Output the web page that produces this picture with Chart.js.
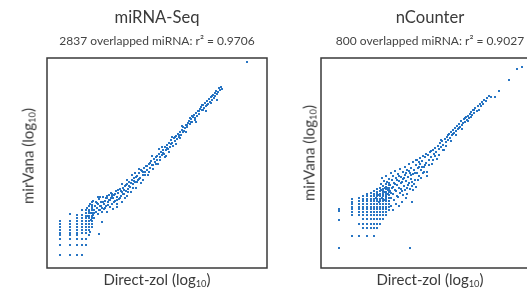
<!DOCTYPE html>
<html>
<head>
<meta charset="utf-8">
<script src="https://cdn.jsdelivr.net/npm/chart.js@4.4.0/dist/chart.umd.min.js"></script>
<style>
  html, body { margin:0; padding:0; background:#fff; }
  body { width:527px; height:291px; overflow:hidden; position:relative; font-family: Lato, "Open Sans", sans-serif; color:#3a3a3a; }
  canvas { position:absolute; top:0; }
  .t { position:absolute; white-space:nowrap; line-height:1; transform:translateX(-50%); }
  .title { font-size:16.6px; top:9px; }
  .sub { font-size:12px; top:35px; color:#444; }
  .xt { font-size:15px; top:272px; }
  .yt { font-size:15px; transform:translate(-50%,-50%) rotate(-90deg); }
  sub { font-size:0.62em; vertical-align:-0.25em; line-height:0; }
</style>
</head>
<body>
<canvas id="c1" width="270" height="291" style="left:0px"></canvas>
<canvas id="c2" width="290" height="291" style="left:270px"></canvas>

<div class="t title" style="left:157px">miRNA-Seq</div>
<div class="t sub" style="left:157px">2837 overlapped miRNA: r² = 0.9706</div>
<div class="t xt" style="left:157px">Direct-zol (log<sub>10</sub>)</div>
<div class="t yt" style="left:27.5px; top:156px">mirVana (log<sub>10</sub>)</div>

<div class="t title" style="left:430px">nCounter</div>
<div class="t sub" style="left:430px">800 overlapped miRNA: r² = 0.9027</div>
<div class="t xt" style="left:430px">Direct-zol (log<sub>10</sub>)</div>
<div class="t yt" style="left:308.5px; top:153px">mirVana (log<sub>10</sub>)</div>

<script>
// ---- Data (arbitrary log-scale units) ----
const panelTitles = ["miRNA-Seq", "nCounter"];
const panelSubtitles = ["2837 overlapped miRNA: r² = 0.9706", "800 overlapped miRNA: r² = 0.9027"];

// miRNA-Seq: low-count discrete grid
const seqGrid = [
  [13,47],[13,44],[13,41],[13,38],[13,35],[13,33],[13,29],[13,23],[13,13],
  [23,54],[23,47],[23,44],[23,41],[23,38],[23,35],[23,33],[23,29],[23,23],[23,13],
  [30,53],[30,50],[30,47],[30,44],[30,41],[30,38],[30,35],[30,33],[30,29],[30,23],[30,13],
  [35,58],[35,53],[35,50],[35,47],[35,44],[35,41],[35,38],[35,35],[35,29],[35,23],[35,13],
  [39,58],[39,55],[39,52],[39,50],[39,47],[39,44],[39,41],[39,38],[39,35],[39,29],[39,23],
  [42,62],[42,58],[42,55],[42,52],[42,50],[42,47],[42,44],[42,41],[42,38],[42,33],
  [45,66],[45,62],[45,58],[45,55],[45,52],[45,50],[45,47],[45,44],[45,41]
];
// miRNA-Seq: main cloud along the diagonal
const seqCloud = [
  [40,60],[41,52],[42,57],[43,64],[44,55],[45,60],[46,67],[46,53],[47,58],[48,62],[49,56],[49,66],
  [50,60],[51,54],[51,64],[52,69],[53,58],[53,62],[54,66],[55,56],[55,60],[56,71],[57,64],[57,59],
  [58,67],[59,62],[60,70],[60,56],[61,66],[62,73],[63,61],[63,68],[64,75],[65,64],[66,70],[66,59],
  [67,73],[68,67],[69,77],[70,71],[70,64],[71,75],[72,69],[73,79],[74,72],[75,76],[75,66],[76,80],
  [77,74],[78,82],[79,77],[80,72],[80,84],[81,79],[82,86],[83,81],[84,76],[85,88],[86,84],[87,90],
  [88,86],[89,80],[90,92],[91,88],[92,95],[93,90],[94,85],[95,97],[96,93],[97,100],[98,96],[99,102],
  [100,98],[101,93],[102,104],[103,100],[104,107],[105,103],[106,99],[107,109],[108,106],[109,111],
  [110,108],[111,104],[112,114],[113,111],[114,116],[115,113],[116,118],[117,114],[118,121],[119,118],
  [120,123],[121,119],[122,125],[123,121],[124,128],[125,125],[126,122],[127,130],[128,127],[129,132],
  [130,129],[131,134],[132,131],[133,136],[134,133],[135,138],[136,141],[137,137],[138,140],[139,143],
  [140,141],[141,145],[142,147],[143,144],[144,149],[145,146],[146,151],[147,153],[148,150],[149,155],
  [150,152],[151,157],[152,154],[153,159],[154,161],[155,158],[156,163],[157,160],[158,165],[159,162],
  [160,167],[161,164],[162,169],[163,166],[164,171],[165,168],[166,173],[167,170],[168,175],[169,177],
  [170,174],[171,176],[172,180],[173,178],[174,181],[175,179],[200,206],
  [52,34],[55,46],[43,36],[51,71],[44,48],[47,50],[53,71],
  [45,63],[47,55],[50,65],[52,58],[54,62],[56,66],[58,60],[59,70],[61,63],[62,68],[64,70],[65,72],
  [67,66],[68,74],[70,68],[71,78],[73,70],[74,77],[76,74],[77,78],[79,83],[81,76],[82,82],[84,85],
  [86,80],[87,87],[89,91],[90,86],[92,89],[94,98],[96,96],[98,93],[100,102],[103,105],[106,103],
  [110,112],[113,108],[116,115],[120,120],[124,124],[128,131],[132,133],[136,136],[140,143],[144,146],
  [148,148],[152,157],[156,158],[160,163],[164,165],[168,172],
  [105,112],[109,104],[115,121],[119,112],[125,131],[129,124],[135,142],[139,136],[145,152],[149,146],
  [155,163],[159,157],[165,172],[170,168],[118,111],[92,99],[96,88],[85,93],[75,84],[80,88],[65,74],
  [70,61],[60,72],[78,70],[88,95],[102,96],[112,119],[122,116],[133,130],[143,150]
];

// nCounter: low-count discrete grid
const ncGrid = [
  [18,59],[18,57],[18,48],[18,20],[89,20],
  [31,69],[31,66],[31,64],[31,61],[31,59],[31,56],[31,53],[31,32],
  [38,70],[38,67],[38,64],[38,61],[38,59],[38,56],[38,53],[38,44],[38,32],
  [42,72],[42,69],[42,67],[42,64],[42,61],[42,59],[42,56],[42,53],[42,49],[42,44],[42,40],
  [46,74],[46,72],[46,69],[46,67],[46,64],[46,61],[46,59],[46,56],[46,53],[46,49],[46,44],[46,40],[46,32],
  [50,75],[50,72],[50,69],[50,67],[50,64],[50,61],[50,59],[50,56],[50,53],[50,49],[50,44],[50,40],
  [53,77],[53,74],[53,72],[53,69],[53,67],[53,64],[53,61],[53,59],[53,56],[53,53],[53,49],[53,44],[53,40],[53,32],
  [56,79],[56,76],[56,74],[56,72],[56,69],[56,67],[56,64],[56,61],[56,59],[56,56],[56,53],[56,49],[56,44],[56,40],
  [59,80],[59,77],[59,74],[59,72],[59,69],[59,67],[59,64],[59,61],[59,59],[59,56],[59,53],[59,49],[59,44],
  [62,82],[62,79],[62,77],[62,74],[62,72],[62,69],[62,67],[62,64],[62,61],[62,59],[62,56],[62,53],[62,49],
  [65,84],[65,81],[65,79],[65,76],[65,74],[65,72],[65,69],[65,67],[65,64],[65,61],[65,59],[65,56],[65,53],
  [68,85],[68,83],[68,80],[68,78],[68,76],[68,73],[68,70],[68,67],[68,64],[68,61],[68,58]
];
// nCounter: main cloud along the diagonal
const ncCloud = [
  [60,84],[61,90],[62,76],[63,87],[64,80],[65,92],[66,86],[67,78],[68,89],[69,83],[70,95],[70,75],
  [71,88],[72,81],[72,92],[73,85],[74,78],[74,97],[75,90],[76,83],[76,72],[77,94],[78,87],[78,80],
  [79,99],[80,91],[80,85],[81,77],[82,96],[82,89],[83,82],[84,101],[84,93],[85,87],[86,80],[86,98],
  [87,91],[88,104],[88,85],[89,95],[90,89],[90,100],[91,82],[92,106],[92,94],[93,98],[94,88],[95,103],
  [96,108],[96,95],[97,100],[98,92],[99,110],[99,104],[100,98],[101,107],[102,112],[103,101],[104,111],
  [105,105],[106,96],[107,113],[108,108],[109,116],[110,111],[111,104],[112,118],[113,114],[114,120],
  [115,116],[116,109],[117,122],[118,119],[119,125],[120,121],[121,127],[122,123],[123,118],[124,129],
  [125,126],[126,131],[127,128],[128,134],[129,130],[130,136],[131,133],[132,138],[133,135],[134,140],
  [135,137],[136,142],[137,139],[138,144],[139,141],[140,147],[141,143],[142,145],[143,149],[144,146],
  [145,151],[146,148],[147,152],[148,150],[149,154],[150,156],[151,153],[152,158],[153,155],[154,160],
  [156,157],[157,162],[159,164],[161,166],[163,168],[165,167],[168,172],[170,171],[174,171],[178,177],
  [188,188],[196,199],[201,201],
  [55,70],[57,73],[58,66],[60,78],[61,70],[62,73],[63,68],[64,76],[65,71],[66,80],[67,74],[68,67],
  [69,77],[70,70],[71,80],[72,74],[73,68],[74,84],[75,77],[76,88],[77,71],[78,92],[79,75],[80,79],
  [81,86],[82,73],[83,90],[84,78],[85,95],[86,74],[87,83],[88,97],[89,79],[90,93],[91,86],[92,78],
  [93,84],[94,95],[95,81],[97,88],[98,101],[100,90],[102,95],[104,103],[106,92],[81,66],[91,66],
  [85,70],[75,64],[78,62],[70,62],[72,58],
  [95,108],[98,106],[101,101],[103,96],[105,114],[108,103],[110,117],[112,108],[114,112],[118,113],
  [120,128],[122,118],[125,122],[127,133],[130,127],[132,134],[135,133],[138,140],[141,139],[144,150],
  [147,147],[150,151],[153,158],[158,158],[160,162],[162,164],[166,170]
];

const pointColor = '#1f6fc1';

const framePlugin = {
  id: 'frame',
  afterDraw(chart) {
    const a = chart.chartArea, ctx = chart.ctx;
    ctx.save();
    ctx.strokeStyle = '#3a3a3a';
    ctx.lineWidth = 1.5;
    ctx.strokeRect(a.left, a.top, a.right - a.left, a.bottom - a.top);
    ctx.restore();
  }
};

function makeChart(id, title, pts, xmax, ymax, pad) {
  return new Chart(document.getElementById(id), {
    type: 'scatter',
    data: { datasets: [{ label: title, data: pts.map(p => ({ x: p[0], y: p[1] })),
      backgroundColor: pointColor, borderWidth: 0, pointRadius: 1.35, pointStyle: 'rect', pointHoverRadius: 1.35 }] },
    options: {
      responsive: false, animation: false, events: [],
      layout: { padding: pad },
      plugins: { legend: { display: false }, tooltip: { enabled: false }, title: { display: false } },
      scales: {
        x: { type: 'linear', display: false, min: 0, max: xmax },
        y: { type: 'linear', display: false, min: 0, max: ymax }
      }
    },
    plugins: [framePlugin]
  });
}

makeChart('c1', panelTitles[0], seqGrid.concat(seqCloud), 220, 210, { left: 47, right: 3, top: 58, bottom: 23 });
makeChart('c2', panelTitles[1], ncGrid.concat(ncCloud), 218, 210, { left: 51, right: 21, top: 58, bottom: 23 });
</script>
</body>
</html>
